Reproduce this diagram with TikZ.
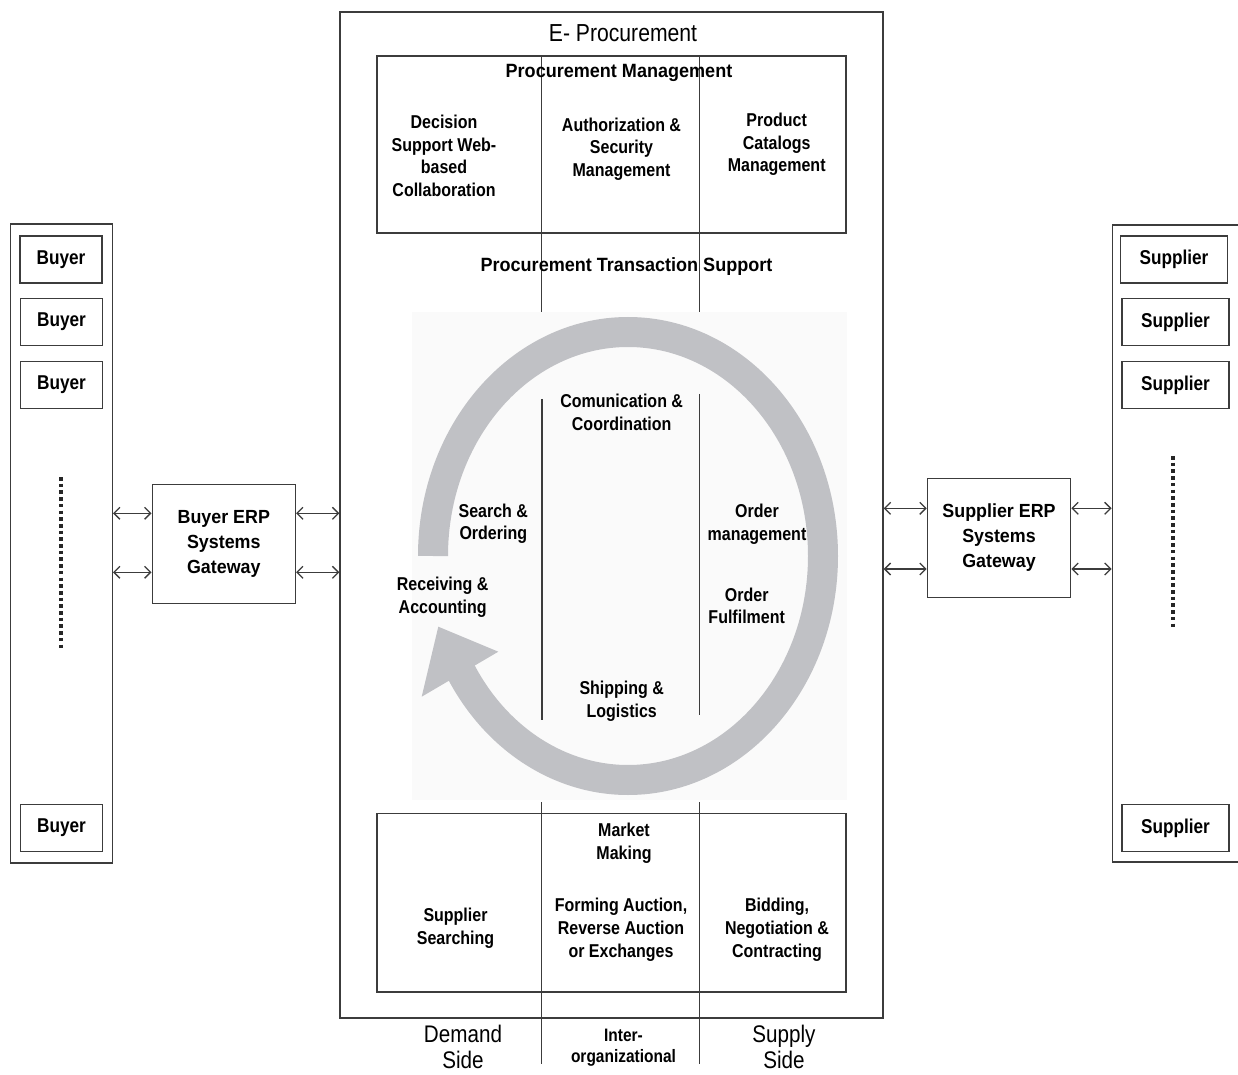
\documentclass[tikz,border=0pt]{standalone}
\usepackage{fontspec}
\setmainfont{Liberation Sans}[FakeStretch=0.86]
\newfontfamily\gwfont{Liberation Sans}[FakeStretch=0.94]
\usetikzlibrary{arrows.meta}
\definecolor{linec}{RGB}{60,60,60}
\definecolor{ringc}{RGB}{192,193,197}
\definecolor{bgc}{RGB}{250,250,250}
\tikzset{
  box/.style={draw=linec, line width=0.7pt, inner sep=0pt},
  lbl/.style={align=center, inner sep=0pt, font=\bfseries\fontsize{9.3}{11.3}\selectfont},
  ttl/.style={align=center, inner sep=0pt, font=\gwfont\bfseries\fontsize{9.6}{11.5}\selectfont},
  side/.style={align=center, inner sep=0pt, font=\fontsize{12}{13}\selectfont},
  party/.style={box, minimum width=41pt, minimum height=23.5pt, font=\bfseries\fontsize{10}{12}\selectfont},
  gw/.style={box, align=center, minimum width=71.6pt, minimum height=59.5pt, font=\gwfont\bfseries\fontsize{9.5}{12.5}\selectfont},
  link/.style={{Straight Barb[length=3pt,width=6pt]}-{Straight Barb[length=3pt,width=6pt]}, draw=linec, line width=0.65pt},
  sep/.style={draw=linec, line width=0.7pt},
  dots/.style={draw=black!85, line width=2pt, dash pattern=on 1.8pt off 1.55pt},
  ring/.style={draw=ringc, line width=15pt}
}
\begin{document}
\begin{tikzpicture}[x=0.5pt,y=0.5pt]
  \useasboundingbox (0,0) rectangle (1238,-1075);

  % buyer side
  \node[box, minimum width=50.8pt, minimum height=319.4pt] (bcol) at (61.5,-543.6) {};
  \node[party] (b1) at (61,-259.7) {Buyer};
  \node[party] (b2) at (61.5,-322) {Buyer};
  \node[party] (b3) at (61.5,-385) {Buyer};
  \node[party] (b4) at (61.5,-828) {Buyer};
  \draw[dots] (61,-477) -- (61,-650);
  \node[gw] (bgw) at (223.8,-544.2) {Buyer ERP\\Systems\\Gateway};

  % supplier side
  \node[box, minimum width=70pt, minimum height=318.5pt] (scol) at (1182.3,-543.5) {};
  \node[party, minimum width=53.5pt] (s1) at (1174,-259.7) {Supplier};
  \node[party, minimum width=53.5pt] (s2) at (1175.5,-322) {Supplier};
  \node[party, minimum width=53.5pt] (s3) at (1175.5,-385) {Supplier};
  \node[party, minimum width=53.5pt] (s4) at (1175.5,-828) {Supplier};
  \draw[dots] (1172.7,-456) -- (1172.7,-628);
  \node[gw] (sgw) at (999,-538) {Supplier ERP\\Systems\\Gateway};

  % e-procurement frame
  \node[box, minimum width=271.5pt, minimum height=503pt] (ep) at (611.5,-515) {};
  \fill[bgc] (412,-312) rectangle (847,-800);
  \node[box, minimum width=234.5pt, minimum height=88.5pt] (pm) at (611.5,-144.5) {};
  \node[box, minimum width=234.5pt, minimum height=89.3pt] (mm) at (611.5,-902.8) {};

  % transaction cycle
  \draw[ring] (433,-556) arc[start angle=180, end angle=-150, x radius=195, y radius=224];
  \fill[ringc] (438.3,-626.7) -- (498.3,-651.7) -- (421.7,-696.7) -- cycle;

  % column separators
  \draw[sep] (541.5,-56) -- (541.5,-311.7);
  \draw[sep] (699.5,-56) -- (699.5,-311.7);
  \draw[sep] (542,-399) -- (542,-720);
  \draw[sep] (699.3,-394) -- (699.3,-715);
  \draw[sep] (541.5,-802) -- (541.5,-1063.5);
  \draw[sep] (699.5,-802) -- (699.5,-1063.5);

  % links
  \draw[link] (bcol.east |- 0,-513.3) -- (bgw.west |- 0,-513.3);
  \draw[link] (bcol.east |- 0,-572.3) -- (bgw.west |- 0,-572.3);
  \draw[link] (bgw.east |- 0,-513.3) -- (ep.west |- 0,-513.3);
  \draw[link] (bgw.east |- 0,-572.3) -- (ep.west |- 0,-572.3);
  \draw[link] (ep.east |- 0,-508.3) -- (sgw.west |- 0,-508.3);
  \draw[link] (ep.east |- 0,-569) -- (sgw.west |- 0,-569);
  \draw[link] (sgw.east |- 0,-508.3) -- (scol.west |- 0,-508.3);
  \draw[link] (sgw.east |- 0,-569) -- (scol.west |- 0,-569);

  % texts
  \node[inner sep=0pt, font=\fontsize{12.3}{14}\selectfont] (eptitle) at (623,-33.5) {E- Procurement};
  \node[ttl] (pmtitle) at (619,-73) {Procurement Management};
  \node[lbl] (dss) at (444,-156) {Decision\\Support Web-\\based\\Collaboration};
  \node[lbl] (auth) at (621.5,-149.2) {Authorization \&\\Security\\Management};
  \node[lbl] (prod) at (776.7,-144.6) {Product\\Catalogs\\Management};
  \node[ttl] (pts) at (626.5,-266.7) {Procurement Transaction Support};
  \node[lbl] (comm) at (621.7,-412.5) {Comunication \&\\Coordination};
  \node[lbl] (search) at (493.3,-523.7) {Search \&\\Ordering};
  \node[lbl] (recv) at (442.7,-597.2) {Receiving \&\\Accounting};
  \node[lbl] (ordm) at (757,-524) {Order\\management};
  \node[lbl] (ordf) at (746.7,-605.8) {Order\\Fulfilment};
  \node[lbl] (ship) at (621.7,-701.2) {Shipping \&\\Logistics};
  \node[lbl] (mkt) at (624,-843) {Market\\Making};
  \node[lbl] (ssearch) at (455.5,-928.2) {Supplier\\Searching};
  \node[lbl] (form) at (621,-929.8) {Forming Auction,\\Reverse Auction\\or Exchanges};
  \node[lbl] (bid) at (777,-929.8) {Bidding,\\Negotiation \&\\Contracting};
  \node[side] (demand) at (463,-1047) {Demand\\Side};
  \node[lbl, font=\bfseries\fontsize{9}{10.75}\selectfont] (inter) at (623.5,-1047.7) {Inter-\\organizational};
  \node[side] (supply) at (784,-1047) {Supply\\Side};
\end{tikzpicture}
\end{document}
